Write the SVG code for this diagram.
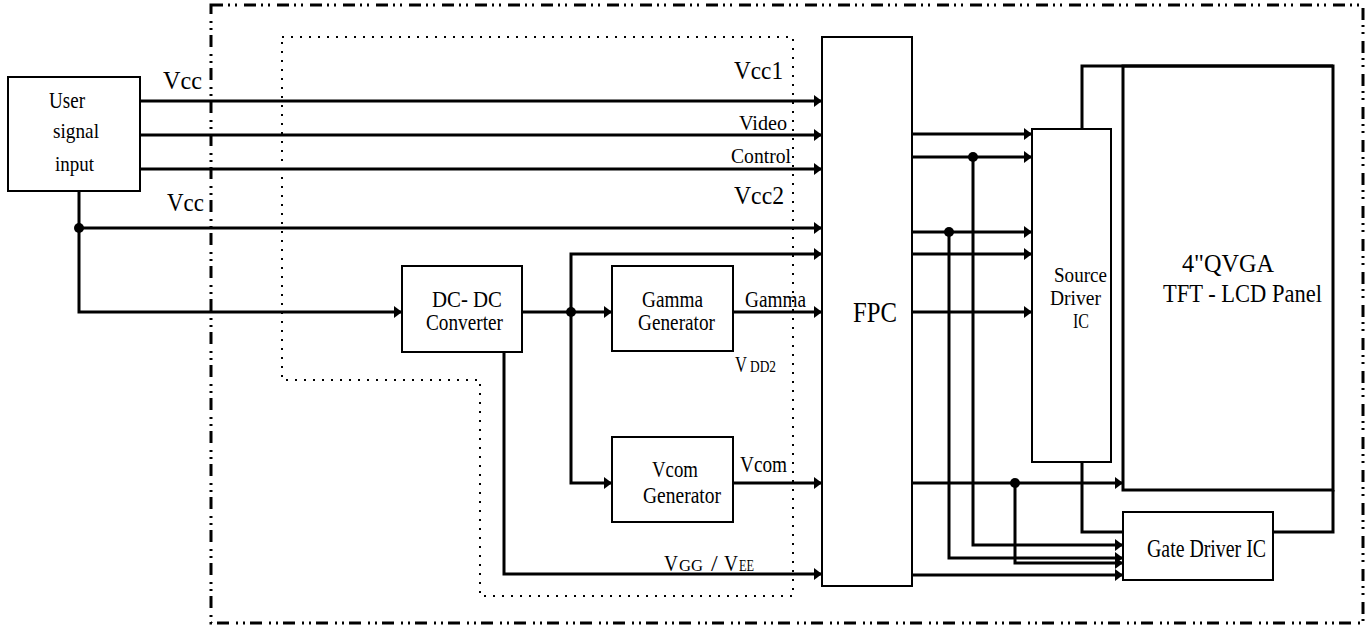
<svg xmlns="http://www.w3.org/2000/svg" width="1369" height="626" viewBox="0 0 1369 626">
<style>
text{font-family:"Liberation Serif","Times New Roman",serif;fill:#000}
.box{fill:#fff;stroke:#000;stroke-width:2}
.thick{fill:none;stroke:#000;stroke-width:3}
.ln{fill:none;stroke:#000;stroke-width:3}
.arr{marker-end:url(#ah)}
.dot{fill:#000}
.outer{fill:none;stroke:#000;stroke-width:3;stroke-dasharray:12 5 2 5 2 7}
.inner{fill:none;stroke:#000;stroke-width:2;stroke-dasharray:2 7}
</style>
<defs>
<marker id="ah" markerUnits="userSpaceOnUse" viewBox="0 0 8 12" markerWidth="8" markerHeight="12" refX="8" refY="6" orient="auto">
<path d="M0,0 L8,6 L0,12 z" fill="#000"/>
</marker>
</defs>
<rect width="1369" height="626" fill="#fff"/>
<g id="boundaries">
<rect class="outer" x="211" y="5" width="1152" height="618"/>
<path class="inner" d="M282,37 L793,37 L793,596 L480,596 L480,380 L282,380 Z"/>
</g>
<g id="connectors">
<path class="ln arr" d="M140,101 H822"/>
<path class="ln arr" d="M140,135 H822"/>
<path class="ln arr" d="M140,169 H822"/>
<path class="ln arr" d="M79,191 V312 H402"/>
<path class="ln arr" d="M79,228 H822"/>
<circle class="dot" cx="79" cy="228" r="5"/>
<path class="ln arr" d="M522,312 H612"/>
<path class="ln arr" d="M571,312 V254 H822"/>
<path class="ln arr" d="M571,312 V483 H612"/>
<circle class="dot" cx="571" cy="312" r="5"/>
<path class="ln arr" d="M733,312 H822"/>
<path class="ln arr" d="M733,483 H822"/>
<path class="ln arr" d="M504,352 V574 H822"/>
<path class="ln arr" d="M912,134 H1032"/>
<path class="ln arr" d="M912,157 H1032"/>
<path class="ln arr" d="M973,157 V545 H1123"/>
<circle class="dot" cx="973" cy="157" r="5"/>
<path class="ln arr" d="M912,232 H1032"/>
<path class="ln arr" d="M949,232 V558 H1123"/>
<circle class="dot" cx="949" cy="232" r="5"/>
<path class="ln arr" d="M912,254 H1032"/>
<path class="ln arr" d="M912,312 H1032"/>
<path class="ln arr" d="M912,483 H1123"/>
<path class="ln arr" d="M1015,483 V563 H1123"/>
<circle class="dot" cx="1015" cy="483" r="5"/>
<path class="ln arr" d="M912,575 H1123"/>
<path class="ln" d="M1082,129 V66 H1333"/>
<path class="ln" d="M1082,462 V532 H1123"/>
<path class="ln" d="M1273,532 H1333 V490"/>
<text x="163" y="89" font-size="26" textLength="39" lengthAdjust="spacingAndGlyphs">Vcc</text>
<text x="167" y="211" font-size="26" textLength="37" lengthAdjust="spacingAndGlyphs">Vcc</text>
<text x="734" y="79" font-size="26" textLength="49" lengthAdjust="spacingAndGlyphs">Vcc1</text>
<text x="734" y="204" font-size="26" textLength="50" lengthAdjust="spacingAndGlyphs">Vcc2</text>
<text x="739" y="130" font-size="22" textLength="48" lengthAdjust="spacingAndGlyphs">Video</text>
<text x="731" y="163" font-size="22" textLength="60" lengthAdjust="spacingAndGlyphs">Control</text>
<text x="745" y="307" font-size="23" textLength="61" lengthAdjust="spacingAndGlyphs">Gamma</text>
<text x="735" y="372" font-size="24" textLength="12" lengthAdjust="spacingAndGlyphs">V</text>
<text x="750" y="372" font-size="16" textLength="26" lengthAdjust="spacingAndGlyphs">DD2</text>
<text x="740" y="472" font-size="24" textLength="47" lengthAdjust="spacingAndGlyphs">Vcom</text>
<text x="664" y="571" font-size="24" textLength="14" lengthAdjust="spacingAndGlyphs">V</text>
<text x="679" y="571" font-size="16" textLength="24" lengthAdjust="spacingAndGlyphs">GG</text>
<text x="711" y="571" font-size="24">/</text>
<text x="724" y="571" font-size="24" textLength="14" lengthAdjust="spacingAndGlyphs">V</text>
<text x="739" y="571" font-size="16" textLength="15" lengthAdjust="spacingAndGlyphs">EE</text>
</g>
<g id="user-input">
<rect class="box" x="8" y="77" width="132" height="114"/>
<text x="49" y="108" font-size="24" textLength="36" lengthAdjust="spacingAndGlyphs">User</text>
<text x="53" y="138" font-size="22" textLength="46" lengthAdjust="spacingAndGlyphs">signal</text>
<text x="55" y="171" font-size="22" textLength="39" lengthAdjust="spacingAndGlyphs">input</text>
</g>
<g id="dcdc">
<rect class="box" x="402" y="266" width="120" height="86"/>
<text x="432" y="307" font-size="23" textLength="70" lengthAdjust="spacingAndGlyphs">DC- DC</text>
<text x="426" y="330" font-size="23" textLength="77" lengthAdjust="spacingAndGlyphs">Converter</text>
</g>
<g id="gamma-generator">
<rect class="box" x="612" y="266" width="121" height="85"/>
<text x="642" y="307" font-size="23" textLength="61" lengthAdjust="spacingAndGlyphs">Gamma</text>
<text x="638" y="330" font-size="23" textLength="77" lengthAdjust="spacingAndGlyphs">Generator</text>
</g>
<g id="vcom-generator">
<rect class="box" x="612" y="437" width="121" height="85"/>
<text x="652" y="477" font-size="23" textLength="46" lengthAdjust="spacingAndGlyphs">Vcom</text>
<text x="643" y="503" font-size="23" textLength="78" lengthAdjust="spacingAndGlyphs">Generator</text>
</g>
<g id="fpc">
<rect class="box" x="822" y="37" width="90" height="549"/>
<text x="853" y="322" font-size="29" textLength="44" lengthAdjust="spacingAndGlyphs">FPC</text>
</g>
<g id="source-driver">
<rect class="box" x="1032" y="129" width="79" height="333"/>
<text x="1054" y="282" font-size="22" textLength="53" lengthAdjust="spacingAndGlyphs">Source</text>
<text x="1050" y="305" font-size="22" textLength="51" lengthAdjust="spacingAndGlyphs">Driver</text>
<text x="1073" y="328" font-size="22" textLength="16" lengthAdjust="spacingAndGlyphs">IC</text>
</g>
<g id="panel">
<rect class="thick" x="1123" y="66" width="210" height="424"/>
<text x="1182" y="272" font-size="25" textLength="92" lengthAdjust="spacingAndGlyphs">4"QVGA</text>
<text x="1163" y="302" font-size="25" textLength="159" lengthAdjust="spacingAndGlyphs">TFT - LCD Panel</text>
</g>
<g id="gate-driver">
<rect class="box" x="1123" y="512" width="150" height="68"/>
<text x="1147" y="557" font-size="25" textLength="119" lengthAdjust="spacingAndGlyphs">Gate Driver IC</text>
</g>
</svg>
